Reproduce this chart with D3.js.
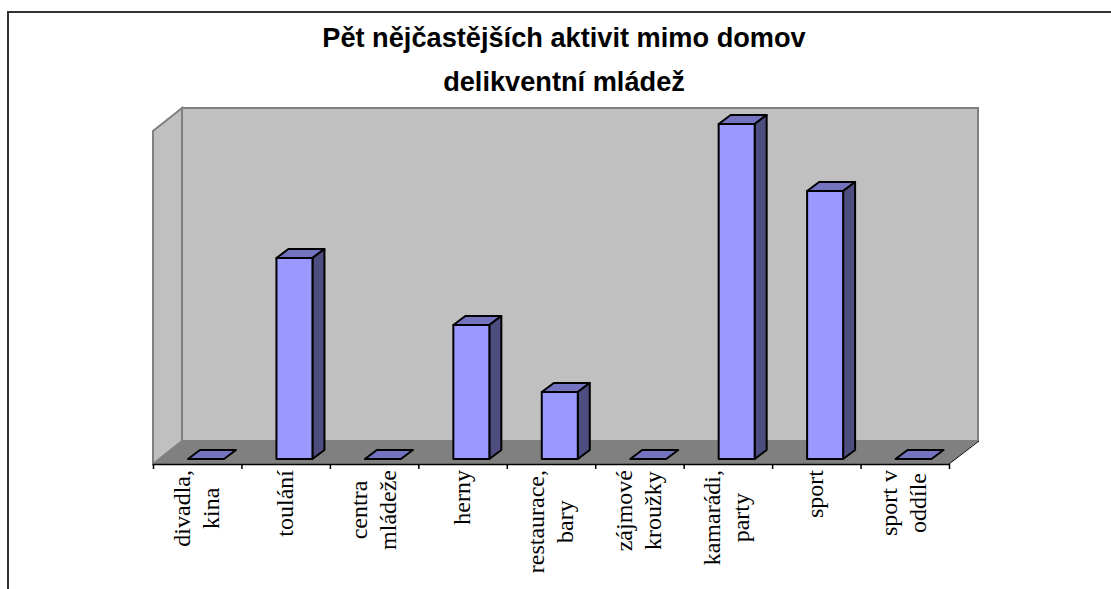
<html>
<head>
<meta charset="utf-8">
<script src="https://d3js.org/d3.v7.min.js"></script>
<style>
  html, body { margin: 0; padding: 0; background: white; overflow: hidden; }
  svg { display: block; }
  .title { font-family: "Liberation Sans", Arial, sans-serif; font-weight: bold; font-size: 27.2px; text-anchor: middle; }
  .cat { font-family: "Liberation Serif", "Times New Roman", serif; font-size: 24px; text-anchor: middle; }
  .bar { stroke: black; stroke-width: 2; stroke-linejoin: round; }
</style>
</head>
<body>
<svg width="1111" height="589"></svg>
<script>
var categories = ["divadla,\nkina","toulání","centra\nmládeže","herny","restaurace,\nbary","zájmové\nkroužky","kamarádi,\nparty","sport","sport v\noddíle"];
var values = [0,3,0,2,1,0,5,4,0];
var titleLines = ["Pět nějčastějších aktivit mimo domov","delikventní mládež"];

var svg = d3.select("svg");

// chart frame, only top and left show
svg.append("path").attr("d","M8,589V12H1111").attr("fill","none").attr("stroke","#333").attr("stroke-width",2);

svg.selectAll(".title").data(titleLines).enter().append("text")
  .attr("class","title").attr("x",564).attr("y",function(d,i){return 47+i*44;}).text(function(d){return d;});

var left = 153, right = 949, floorFront = 464;
var depthX = 29, depthY = 23;
var x = d3.scaleBand().domain(categories).range([left,right]);
var edges = d3.scaleLinear().domain([0,categories.length]).range([left,right]);
var y = d3.scaleLinear().domain([0,5]).range([459,124]);
var wallY = d3.scaleLinear().domain([0,5]).range([floorFront-depthY,108]);

// walls and floor
svg.append("path")
  .attr("d","M"+(left+depthX)+","+wallY(5)+"H"+(right+depthX)+"V"+wallY(0)+"H"+(left+depthX)+"Z")
  .attr("fill","#c0c0c0").attr("stroke","#808080").attr("stroke-width",2);
svg.append("path")
  .attr("d","M"+left+","+floorFront+"V"+(wallY(5)+depthY)+"L"+(left+depthX)+","+wallY(5)+"V"+wallY(0)+"Z")
  .attr("fill","#c0c0c0").attr("stroke","#808080").attr("stroke-width",2);
svg.append("path")
  .attr("d","M"+left+","+floorFront+"L"+(left+depthX)+","+wallY(0)+"H"+(right+depthX)+"L"+right+","+floorFront+"Z")
  .attr("fill","#808080");
svg.append("line").attr("x1",right).attr("y1",floorFront).attr("x2",right+depthX+1).attr("y2",wallY(0))
  .attr("stroke","black").attr("stroke-width",1);

var barOffset = 35, barW = 36, dx = 12, dy = 9;
var bars = svg.selectAll(".b").data(values).enter().append("g").attr("class","b");
function bx(i){ return x(categories[i])+barOffset; }
bars.append("path").attr("class","bar").attr("fill","#7373c0")
  .attr("d",function(d,i){var a=bx(i),t=y(d);return "M"+a+","+t+"l"+dx+","+(-dy)+"h"+barW+"l"+(-dx)+","+dy+"Z";});
bars.filter(function(d){return d>0;}).append("path").attr("class","bar").attr("fill","#4d4d80")
  .attr("d",function(d){var a=bx(values.indexOf(d))+barW,t=y(d);return "M"+a+","+t+"l"+dx+","+(-dy)+"V"+(y(0)-dy)+"l"+(-dx)+","+dy+"Z";});
bars.filter(function(d){return d>0;}).append("rect").attr("class","bar").attr("fill","#9999ff")
  .attr("x",function(d){return bx(values.indexOf(d));}).attr("y",function(d){return y(d);})
  .attr("width",barW).attr("height",function(d){return y(0)-y(d);});

// category axis
var axis = svg.append("g").attr("transform","translate(0,"+floorFront+")")
  .call(d3.axisBottom(edges).tickValues(d3.range(categories.length+1)).tickFormat("").tickSize(5).tickSizeOuter(0));
axis.selectAll("line,path").attr("stroke","black").attr("stroke-width",1.5);

// category labels, rotated, block hanging from the axis
var lineGap = 29;
categories.forEach(function(c,i){
  var lines = c.split("\n");
  var g = svg.append("g");
  var ts = lines.map(function(l){return g.append("text").attr("class","cat").text(l);});
  var maxLen = d3.max(ts,function(t){return t.node().getComputedTextLength();});
  var cx = x(c)+x.bandwidth()/2, cy = 470+maxLen/2;
  ts.forEach(function(t,k){
    var bl = cx+7+(k-(lines.length-1)/2)*lineGap;
    t.attr("transform","translate("+bl+","+cy+") rotate(-90)");
  });
});
</script>
</body>
</html>
